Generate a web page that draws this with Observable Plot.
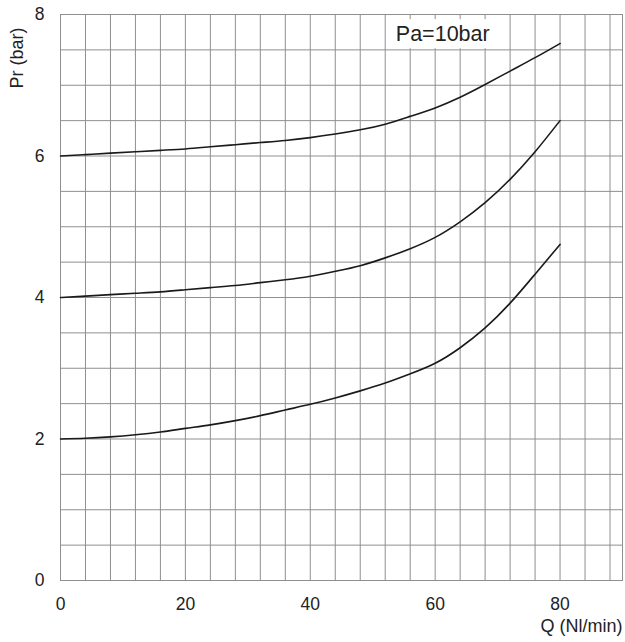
<!DOCTYPE html>
<html>
<head>
<meta charset="utf-8">
<script src="https://cdn.jsdelivr.net/npm/d3@7"></script>
<script src="https://cdn.jsdelivr.net/npm/@observablehq/plot@0.6"></script>
<style>
  html, body { margin: 0; padding: 0; background: #fff; }
  #chart svg { display: block; }
</style>
</head>
<body>
<div id="chart"></div>
<script>
// Flow Q (Nl/min)
const flow = [0, 4, 8, 12, 16, 20, 24, 28, 32, 36, 40, 44, 48, 52, 56, 60, 64, 68, 72, 76, 80];
// Regulated pressure Pr (bar) for three set points, Pa = 10 bar
const prSet6 = [6.00, 6.02, 6.04, 6.06, 6.08, 6.10, 6.13, 6.16, 6.19, 6.22, 6.26, 6.31, 6.37, 6.45, 6.56, 6.68, 6.83, 7.01, 7.20, 7.39, 7.59];
const prSet4 = [4.00, 4.02, 4.04, 4.06, 4.08, 4.11, 4.14, 4.17, 4.21, 4.25, 4.30, 4.37, 4.45, 4.56, 4.69, 4.85, 5.07, 5.34, 5.67, 6.06, 6.50];
const prSet2 = [2.00, 2.01, 2.03, 2.06, 2.10, 2.15, 2.20, 2.26, 2.33, 2.41, 2.49, 2.58, 2.68, 2.79, 2.92, 3.07, 3.29, 3.57, 3.92, 4.33, 4.75];

const xTicks = [0, 20, 40, 60, 80];
const yTicks = [0, 2, 4, 6, 8];
const xGrid = d3.range(0, 89, 4);
const yGrid = d3.range(0, 8.01, 0.5);
const xLabel = "Q (Nl/min)";
const yLabel = "Pr (bar)";
const note = "Pa=10bar";

const series = [
  {name: "6", values: prSet6},
  {name: "4", values: prSet4},
  {name: "2", values: prSet2}
];
const rows = series.flatMap(s => flow.map((q, i) => ({set: s.name, q, p: s.values[i]})));

const gridColor = "#8f8f8f";
const font = "Liberation Sans, Arial, Helvetica, sans-serif";

const chart = Plot.plot({
  width: 625,
  height: 642,
  marginLeft: 60,
  marginRight: 3,
  marginTop: 14,
  marginBottom: 62,
  style: {fontFamily: font, background: "#fff", color: "#222"},
  x: {domain: [0, 90]},
  y: {domain: [0, 8]},
  marks: [
    Plot.ruleX(xGrid, {stroke: gridColor, strokeWidth: 1}),
    Plot.ruleY(yGrid, {stroke: gridColor, strokeWidth: 1}),
    Plot.frame({stroke: gridColor, strokeWidth: 1}),
    Plot.axisX(xTicks, {tickSize: 0, tickPadding: 17, fontSize: 17.5, label: null, tickFormat: d3.format("d")}),
    Plot.axisY(yTicks, {tickSize: 0, tickPadding: 16, fontSize: 17.5, label: null, tickFormat: d3.format("d")}),
    Plot.line(rows, {x: "q", y: "p", z: "set", stroke: "#1a1a1a", strokeWidth: 1.6, curve: "natural"}),
    Plot.text([xLabel], {frameAnchor: "bottom-right", textAnchor: "end", lineAnchor: "middle", dy: 46, fontSize: 18, fill: "#222"}),
    Plot.text([yLabel], {frameAnchor: "top-left", rotate: -90, textAnchor: "end", lineAnchor: "middle", dx: -43, dy: 13, fontSize: 18, fill: "#222"}),
    Plot.text([note], {x: 53.7, y: 7.72, textAnchor: "start", lineAnchor: "middle", fontSize: 21.5, fill: "#222", className: "note"})
  ]
});

document.getElementById("chart").appendChild(chart);

// white box behind the annotation, sized from the text itself
const noteText = chart.querySelector(".note text");
if (noteText) {
  const b = noteText.getBBox();
  const g = noteText.parentNode;
  const ns = "http://www.w3.org/2000/svg";
  const r = document.createElementNS(ns, "rect");
  const tr = noteText.getAttribute("transform") || "";
  r.setAttribute("x", b.x - 9);
  r.setAttribute("y", b.y - 3);
  r.setAttribute("width", b.width + 18);
  r.setAttribute("height", b.height + 5);
  r.setAttribute("fill", "#fff");
  if (tr) r.setAttribute("transform", tr);
  g.insertBefore(r, noteText);
}
</script>
</body>
</html>
